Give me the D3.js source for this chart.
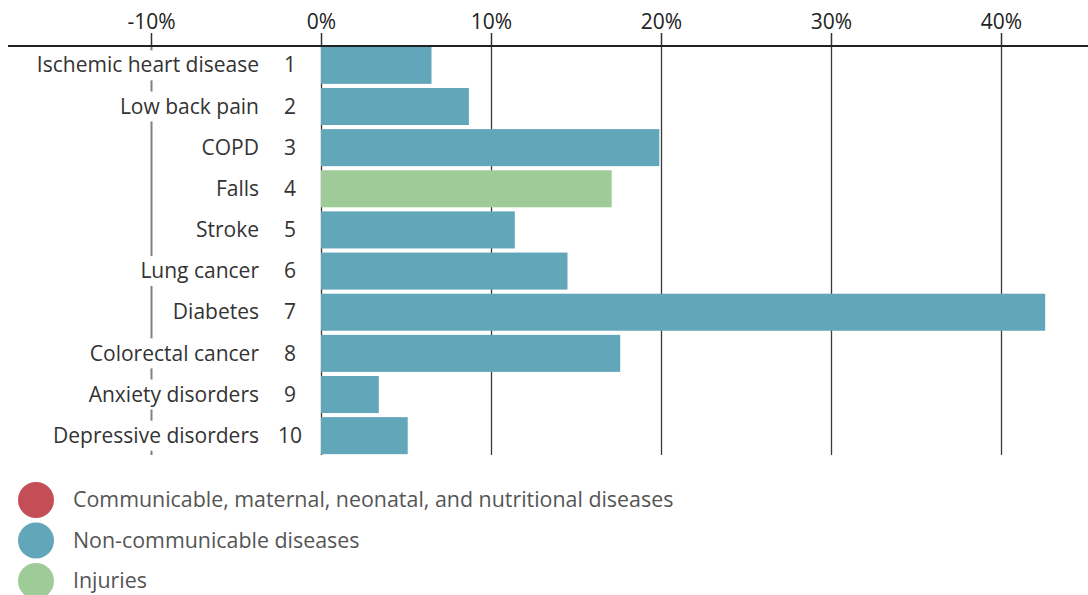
<!DOCTYPE html>
<html>
<head>
<meta charset="utf-8">
<script src="https://cdn.jsdelivr.net/npm/d3@7"></script>
<style>
  html, body { margin: 0; padding: 0; background: #fff; }
  svg { display: block; font-family: "Open Sans", "Noto Sans", sans-serif; }
</style>
</head>
<body>
<svg id="chart" width="1088" height="595"></svg>
<script>
const causes = ["Ischemic heart disease", "Low back pain", "COPD", "Falls", "Stroke",
  "Lung cancer", "Diabetes", "Colorectal cancer", "Anxiety disorders", "Depressive disorders"];
const ranks = [1, 2, 3, 4, 5, 6, 7, 8, 9, 10];
const values = [6.5, 8.7, 19.9, 17.1, 11.4, 14.5, 42.6, 17.6, 3.4, 5.1];
const groups = ["ncd", "ncd", "ncd", "inj", "ncd", "ncd", "ncd", "ncd", "ncd", "ncd"];
const tickValues = [-10, 0, 10, 20, 30, 40];
const legendKeys = ["cmnn", "ncd", "inj"];
const legendLabels = ["Communicable, maternal, neonatal, and nutritional diseases",
  "Non-communicable diseases", "Injuries"];
const legendColors = ["#c44e55", "#62a6b9", "#9ecb98"];

const svg = d3.select("#chart");
const color = d3.scaleOrdinal().domain(legendKeys).range(legendColors);

const x = d3.scaleLinear().domain([-10, 40]).range([151, 1001]);
const y = d3.scaleBand().domain(causes).range([46, 455]).paddingInner(0.1).paddingOuter(0.02);

const axisY = 46;
const FS = 21;

// gridlines
const grid = svg.append("g");
grid.selectAll("line").data(tickValues).join("line")
  .attr("x1", d => Math.round(x(d)) + 0.5).attr("x2", d => Math.round(x(d)) + 0.5)
  .attr("y1", axisY).attr("y2", 455)
  .attr("stroke", d => d === -10 ? "#808080" : "#3a3a3a")
  .attr("stroke-width", d => d === -10 ? 2 : 1.3);

// bars
svg.append("g").selectAll("rect").data(causes).join("rect")
  .attr("x", x(0))
  .attr("y", d => y(d))
  .attr("width", (d, i) => x(values[i]) - x(0))
  .attr("height", y.bandwidth())
  .attr("fill", (d, i) => color(groups[i]));

// top axis
const axis = d3.axisTop(x).tickValues(tickValues).tickFormat(d => d + "%").tickSize(13).tickPadding(4);
const ax = svg.append("g").attr("transform", `translate(0,${axisY})`).call(axis);
ax.select(".domain").remove();
ax.selectAll(".tick line").attr("stroke", "#333").attr("stroke-width", 1.5);
ax.selectAll(".tick text").attr("font-size", FS).attr("fill", "#222")
  .attr("font-family", "'Open Sans', sans-serif");
svg.append("line").attr("x1", 8).attr("x2", 1088).attr("y1", axisY).attr("y2", axisY)
  .attr("stroke", "#222").attr("stroke-width", 2);

// labels with white backgrounds
const lab = svg.append("g");
const labelRight = 259;
causes.forEach((c, i) => {
  const cy = y(c) + y.bandwidth() / 2;
  const g = lab.append("g");
  const bg = g.append("rect").attr("fill", "#fff");
  const t = g.append("text")
    .attr("x", labelRight).attr("y", cy).attr("dy", "0.34em")
    .attr("text-anchor", "end").attr("font-size", FS).attr("fill", "#333")
    .text(c);
  const bb = t.node().getBBox();
  bg.attr("x", bb.x - 3).attr("width", bb.width + 6).attr("y", cy - 15).attr("height", 30);
  lab.append("text")
    .attr("x", 290).attr("y", cy).attr("dy", "0.34em")
    .attr("text-anchor", "middle").attr("font-size", FS).attr("fill", "#333")
    .text(ranks[i]);
});

// legend
const leg = svg.append("g");
legendKeys.forEach((k, i) => {
  const cy = 500 + i * 40.5;
  leg.append("circle").attr("cx", 36).attr("cy", cy).attr("r", 18).attr("fill", color(k));
  leg.append("text").attr("x", 73).attr("y", cy).attr("dy", "0.34em")
    .attr("font-size", 21.4).attr("fill", "#555").text(legendLabels[i]);
});
</script>
</body>
</html>
